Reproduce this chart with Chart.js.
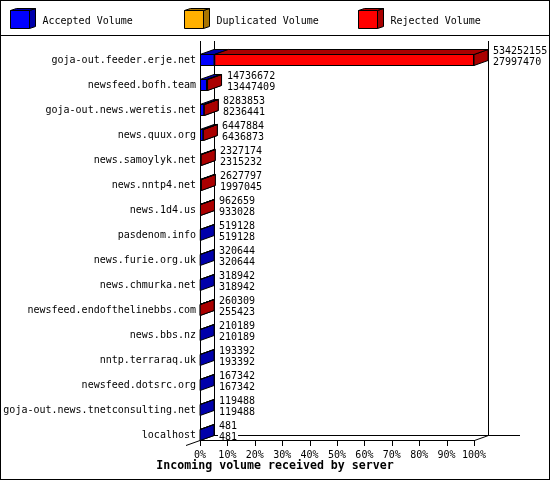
<!DOCTYPE html>
<html><head><meta charset="utf-8">
<script src="https://cdn.jsdelivr.net/npm/chart.js@4/dist/chart.umd.min.js"></script>
<style>html,body{margin:0;padding:0;background:#fff}canvas{display:block}</style>
</head><body><canvas id="c" width="550" height="480"></canvas>
<script>
const categories = ['goja-out.feeder.erje.net','newsfeed.bofh.team','goja-out.news.weretis.net','news.quux.org','news.samoylyk.net','news.nntp4.net','news.1d4.us','pasdenom.info','news.furie.org.uk','news.chmurka.net','newsfeed.endofthelinebbs.com','news.bbs.nz','nntp.terraraq.uk','newsfeed.dotsrc.org','goja-out.news.tnetconsulting.net','localhost'];
const totalVolume = [534252155,14736672,8283853,6447884,2327174,2627797,962659,519128,320644,318942,260309,210189,193392,167342,119488,481];
const acceptedVolume = [27997470,13447409,8236441,6436873,2315232,1997045,933028,519128,320644,318942,255423,210189,193392,167342,119488,481];
const duplicatedVolume = [0,0,0,0,0,0,0,0,0,0,0,0,0,0,0,0];
const rejectedVolume = [506254685,1289263,47412,11011,11942,630752,29631,0,0,0,4886,0,0,0,0,0];
const tickLabels = ['0%','10%','20%','30%','40%','50%','60%','70%','80%','90%','100%'];
const seriesNames = ['Accepted Volume','Duplicated Volume','Rejected Volume'];
const axisTitle = 'Incoming volume received by server';

const FRONT = ['#0000ff','#ffb000','#ff0000'];
const DARK = ['#0000aa','#aa7500','#aa0000'];
const DX = 14, DY = 5;
const FONT = '10px "DejaVu Sans Mono", "Liberation Mono", monospace';
const BOLD = 'bold 11.6px "DejaVu Sans Mono", "Liberation Mono", monospace';
const maxTotal = Math.max(...totalVolume);

function poly(ctx, pts, fill) {
  ctx.beginPath();
  ctx.moveTo(pts[0][0], pts[0][1]);
  for (let i = 1; i < pts.length; i++) ctx.lineTo(pts[i][0], pts[i][1]);
  ctx.closePath();
  if (fill) { ctx.fillStyle = fill; ctx.fill(); }
  ctx.strokeStyle = '#000'; ctx.lineWidth = 1; ctx.stroke();
}
function line(ctx, x1, y1, x2, y2) {
  ctx.beginPath(); ctx.moveTo(x1, y1); ctx.lineTo(x2, y2);
  ctx.strokeStyle = '#000'; ctx.lineWidth = 1; ctx.stroke();
}

const threeD = {
  id: 'threeD',
  beforeDraw(chart) {
    const ctx = chart.ctx;
    ctx.save();
    ctx.fillStyle = '#fff'; ctx.fillRect(0, 0, 550, 480);
    ctx.restore();
  },
  beforeDatasetsDraw(chart) {
    const ctx = chart.ctx, xs = chart.scales.x, ys = chart.scales.y;
    const L = Math.round(xs.getPixelForValue(0)), R = Math.round(xs.getPixelForValue(maxTotal));
    const floorF = ys.getPixelForValue(categories.length - 1) + 6;
    const top = 41;
    ctx.save();
    line(ctx, L + 0.5, top, L + 0.5, floorF);
    line(ctx, L + DX + 0.5, top, L + DX + 0.5, floorF - DY);
    line(ctx, R + DX + 0.5, top, R + DX + 0.5, floorF - DY);
    line(ctx, L + DX, floorF - DY - 0.5, 520, floorF - DY - 0.5);
    line(ctx, L, floorF - 0.5, R + 1, floorF - 0.5);
    line(ctx, R + 0.5, floorF - 0.5, R + DX + 0.5, floorF - DY - 0.5);
    line(ctx, L - DX, floorF + DY - 0.5, L + DX, floorF - DY - 0.5);
    xs.ticks.forEach(t => {
      const x = Math.round(xs.getPixelForValue(t.value)) + 0.5;
      line(ctx, x, floorF, x, floorF + 5);
    });
    ctx.restore();
  },
  afterDatasetsDraw(chart) {
    const ctx = chart.ctx, ys = chart.scales.y;
    ctx.save();
    for (let i = 0; i < categories.length; i++) {
      let lastEl = null;
      for (let d = 0; d < 3; d++) {
        const v = chart.data.datasets[d].data[i];
        if (!v) continue;
        const el = chart.getDatasetMeta(d).data[i];
        const left = Math.min(el.base, el.x), right = Math.max(el.base, el.x);
        const t = el.y - el.height / 2 + 0.5, b = el.y + el.height / 2 - 0.5;
        poly(ctx, [[right, t], [right + DX, t - DY], [right + DX, b - DY], [right, b]], DARK[d]);
        poly(ctx, [[left, t], [right, t], [right + DX, t - DY], [left + DX, t - DY]], DARK[d]);
        el.draw(ctx);
        lastEl = el;
      }
      if (lastEl) {
        const x = Math.round(lastEl.x) + DX + 5;
        const c = ys.getPixelForValue(i);
        ctx.font = FONT; ctx.textAlign = 'left'; ctx.textBaseline = 'alphabetic';
        const lines = [[String(totalVolume[i]), c - 6], [String(acceptedVolume[i]), c + 5]];
        lines.forEach(([s, y]) => {
          const w = ctx.measureText(s).width;
          ctx.fillStyle = '#fff'; ctx.fillRect(x - 1, y - 8, w + 2, 8);
          ctx.fillStyle = '#000'; ctx.fillText(s, x, y);
        });
      }
    }
    ctx.restore();
  },
  afterDraw(chart) {
    const ctx = chart.ctx;
    ctx.save();
    // legend
    line(ctx, 0, 35.5, 550, 35.5);
    for (let k = 0; k < 3; k++) {
      const x0 = 10.5 + 174 * k, y0 = 10.5, w = 19, h = 18;
      poly(ctx, [[x0 + w, y0], [x0 + w + 6, y0 - 2], [x0 + w + 6, y0 + h - 2], [x0 + w, y0 + h]], DARK[k]);
      poly(ctx, [[x0, y0], [x0 + w, y0], [x0 + w + 6, y0 - 2], [x0 + 6, y0 - 2]], DARK[k]);
      poly(ctx, [[x0, y0], [x0 + w, y0], [x0 + w, y0 + h], [x0, y0 + h]], FRONT[k]);
      ctx.font = FONT; ctx.fillStyle = '#000'; ctx.textAlign = 'left'; ctx.textBaseline = 'alphabetic';
      ctx.fillText(seriesNames[k], x0 + 32, 24);
    }
    // axis title
    ctx.font = BOLD; ctx.fillStyle = '#000'; ctx.textAlign = 'center'; ctx.textBaseline = 'alphabetic';
    ctx.fillText(axisTitle, 275, 469);
    // border
    ctx.strokeStyle = '#000'; ctx.lineWidth = 1;
    ctx.strokeRect(0.5, 0.5, 549, 479);
    ctx.restore();
  }
};

const mk = (label, data, k) => ({
  label, data, backgroundColor: FRONT[k], borderColor: '#000', borderWidth: 1,
  borderSkipped: false, barThickness: 12, inflateAmount: 0
});

new Chart(document.getElementById('c'), {
  type: 'bar',
  data: {
    labels: categories,
    datasets: [
      mk(seriesNames[0], acceptedVolume, 0),
      mk(seriesNames[1], duplicatedVolume, 1),
      mk(seriesNames[2], rejectedVolume, 2)
    ]
  },
  options: {
    indexAxis: 'y', responsive: false, animation: false, devicePixelRatio: 1,
    layout: { padding: { top: 47.5, right: 76, left: 0, bottom: 0 } },
    plugins: { legend: { display: false }, tooltip: { enabled: false }, title: { display: false } },
    scales: {
      x: {
        stacked: true, min: 0, max: maxTotal,
        grid: { display: false, drawTicks: false }, border: { display: false },
        afterBuildTicks(s) { s.ticks = tickLabels.map((_, i) => ({ value: maxTotal * i / 10 })); },
        afterFit(s) { s.height = 32.5; },
        ticks: { autoSkip: false, maxRotation: 0, padding: 2, color: '#000', font: { family: '"DejaVu Sans Mono", monospace', size: 10 },
          callback: (v, i) => tickLabels[i] }
      },
      y: {
        stacked: true,
        grid: { display: false, drawTicks: false }, border: { display: false },
        afterFit(s) { s.width = 200; },
        ticks: { autoSkip: false, padding: 4, color: '#000', font: { family: '"DejaVu Sans Mono", monospace', size: 10 } }
      }
    }
  },
  plugins: [threeD]
});
</script></body></html>
